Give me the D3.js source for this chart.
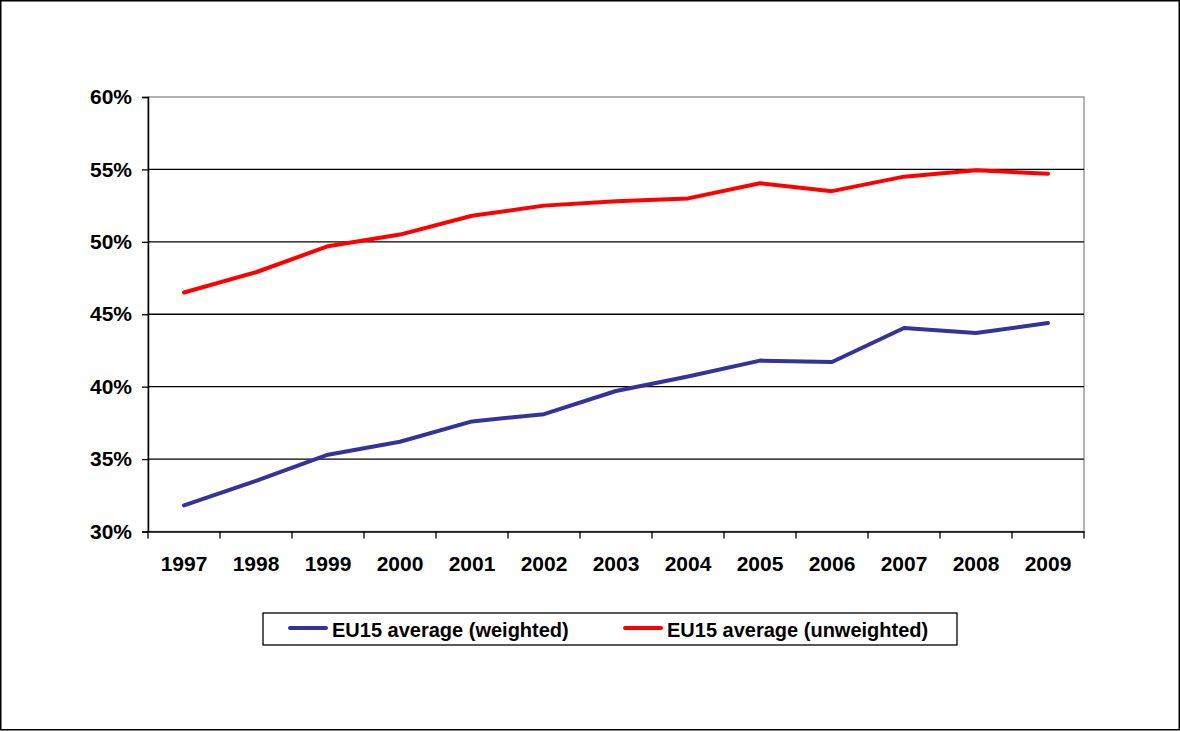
<!DOCTYPE html>
<html lang="en">
<head>
<meta charset="UTF-8">
<title>EU15 average</title>
<script src="https://d3js.org/d3.v7.min.js"></script>
<style>
  body { margin: 0; padding: 0; background: #fff; }
  svg { display: block; font-family: "Liberation Sans", Arial, sans-serif; }
</style>
</head>
<body>
<svg width="1180" height="731"></svg>
<script>
const years = ["1997","1998","1999","2000","2001","2002","2003","2004","2005","2006","2007","2008","2009"];
const weighted = [31.8, 33.5, 35.3, 36.2, 37.6, 38.1, 39.7, 40.7, 41.8, 41.7, 44.05, 43.7, 44.4];
const unweighted = [46.5, 47.9, 49.7, 50.5, 51.8, 52.5, 52.8, 53.0, 54.05, 53.5, 54.5, 54.95, 54.7];
const yTicks = [30, 35, 40, 45, 50, 55, 60];
const seriesNames = ["EU15 average (weighted)", "EU15 average (unweighted)"];
const seriesColors = ["#333399", "#ff0000"];

const svg = d3.select("svg");

// outer frame
svg.append("rect")
    .attr("x", 0.75).attr("y", 0.75)
    .attr("width", 1178.5).attr("height", 729)
    .attr("fill", "none").attr("stroke", "#000").attr("stroke-width", 1.5);

const plotLeft = 148, plotRight = 1084, plotTop = 97, plotBottom = 531.5;

const x = d3.scaleBand().domain(years).range([plotLeft, plotRight]);
const y = d3.scaleLinear().domain([30, 60]).range([plotBottom, plotTop]);

// plot area border (grey)
svg.append("rect")
    .attr("x", plotLeft).attr("y", plotTop)
    .attr("width", plotRight - plotLeft).attr("height", plotBottom - plotTop)
    .attr("fill", "none").attr("stroke", "#999").attr("stroke-width", 1.5);

// gridlines
svg.append("g")
    .selectAll("line")
    .data(yTicks.filter(d => d > 30 && d < 60))
    .join("line")
    .attr("x1", plotLeft).attr("x2", plotRight)
    .attr("y1", d => y(d)).attr("y2", d => y(d))
    .attr("stroke", "#000").attr("stroke-width", 1.3);

// y axis
const yAxis = svg.append("g")
    .attr("transform", `translate(${plotLeft},0)`)
    .call(d3.axisLeft(y).tickValues(yTicks).tickSize(6).tickPadding(10).tickFormat(d => d + "%"));
yAxis.select(".domain").attr("stroke", "#000").attr("stroke-width", 1.5);
yAxis.selectAll(".tick line").attr("stroke", "#000").attr("stroke-width", 1.3);
yAxis.selectAll(".tick text")
    .attr("font-size", 21).attr("font-weight", "bold").attr("fill", "#000")
    .attr("font-family", "'Liberation Sans', Arial, sans-serif");

// x axis
const xAxis = svg.append("g")
    .attr("transform", `translate(0,${plotBottom})`)
    .call(d3.axisBottom(x).tickSize(0).tickPadding(25));
xAxis.select(".domain").attr("stroke", "#000").attr("stroke-width", 1.5);
xAxis.selectAll(".tick text")
    .attr("font-size", 21).attr("font-weight", "bold").attr("fill", "#000")
    .attr("font-family", "'Liberation Sans', Arial, sans-serif");
// tick marks between categories
svg.append("g")
    .selectAll("line")
    .data(years.concat(["end"]))
    .join("line")
    .attr("x1", (d, i) => i < years.length ? x(d) : plotRight)
    .attr("x2", (d, i) => i < years.length ? x(d) : plotRight)
    .attr("y1", plotBottom).attr("y2", plotBottom + 7)
    .attr("stroke", "#000").attr("stroke-width", 1.3);

// lines
const line = d3.line()
    .x((d, i) => x(years[i]) + x.bandwidth() / 2)
    .y(d => y(d));

[weighted, unweighted].forEach((vals, i) => {
    svg.append("path")
        .datum(vals)
        .attr("d", line)
        .attr("fill", "none")
        .attr("stroke", seriesColors[i])
        .attr("stroke-width", 4)
        .attr("stroke-linejoin", "round")
        .attr("stroke-linecap", "round");
});

// legend
const legend = svg.append("g");
legend.append("rect")
    .attr("x", 263).attr("y", 613)
    .attr("width", 694).attr("height", 32)
    .attr("fill", "#fff").attr("stroke", "#000").attr("stroke-width", 1.3);

const legendX = [290, 625];
seriesNames.forEach((name, i) => {
    legend.append("line")
        .attr("x1", legendX[i]).attr("x2", legendX[i] + 36)
        .attr("y1", 628).attr("y2", 628)
        .attr("stroke", seriesColors[i]).attr("stroke-width", 4)
        .attr("stroke-linecap", "round");
    legend.append("text")
        .attr("x", legendX[i] + 42).attr("y", 637)
        .attr("font-size", 20).attr("font-weight", "bold")
        .text(name);
});
</script>
</body>
</html>
